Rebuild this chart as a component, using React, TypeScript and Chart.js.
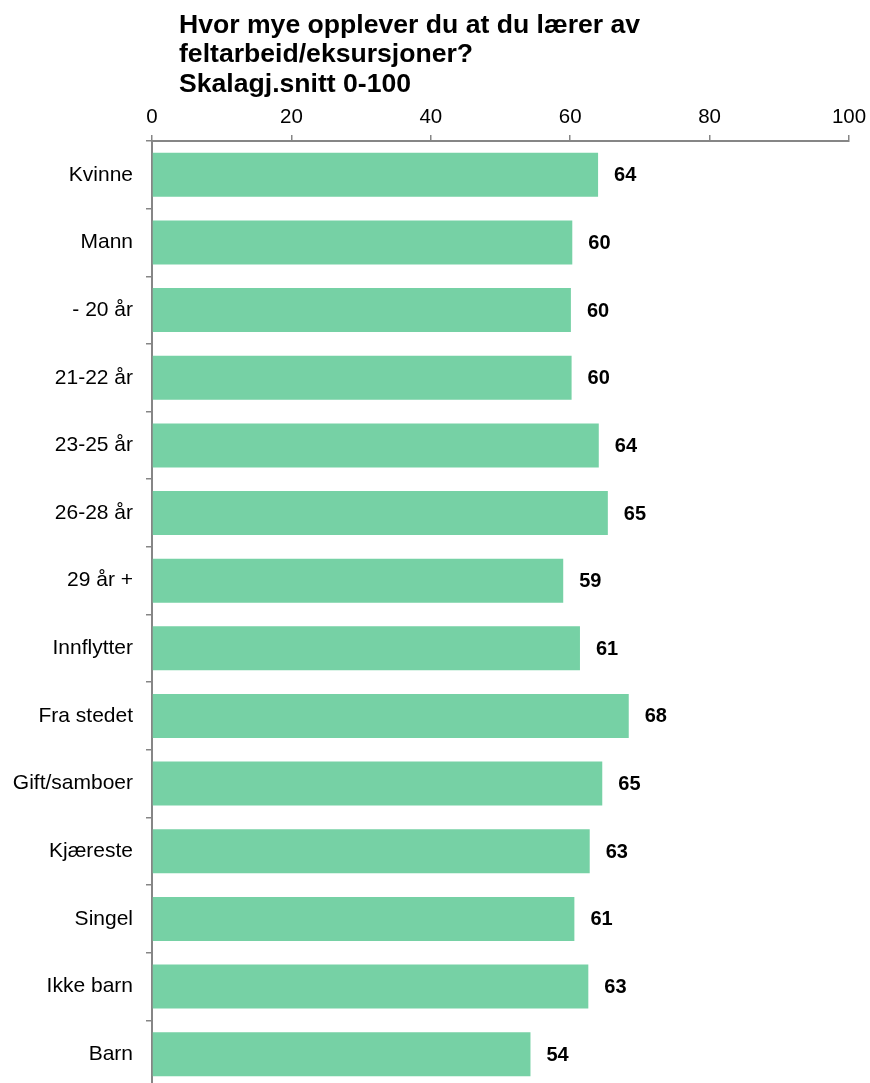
import React, { useEffect, useRef } from "react";
import { Chart, registerables } from "chart.js";

Chart.register(...registerables);

const titleLines = [
  "Hvor mye opplever du at du lærer av",
  "feltarbeid/eksursjoner?",
  "Skalagj.snitt 0-100",
];

const categories = [
  "Kvinne",
  "Mann",
  "- 20 år",
  "21-22 år",
  "23-25 år",
  "26-28 år",
  "29 år +",
  "Innflytter",
  "Fra stedet",
  "Gift/samboer",
  "Kjæreste",
  "Singel",
  "Ikke barn",
  "Barn",
];

const values = [64.0, 60.3, 60.1, 60.2, 64.1, 65.4, 59.0, 61.4, 68.4, 64.6, 62.8, 60.6, 62.6, 54.3];

const xTickValues = [0, 20, 40, 60, 80, 100];

const FONT = "'Liberation Sans', Arial, Helvetica, sans-serif";

const titlePlugin = {
  id: "customTitle",
  afterDraw(chart: any) {
    const ctx = chart.ctx;
    ctx.save();
    ctx.fillStyle = "#000";
    ctx.font = `bold 26.6px ${FONT}`;
    ctx.textAlign = "left";
    ctx.textBaseline = "alphabetic";
    const baselines = [32.5, 62, 91.5];
    titleLines.forEach((t, i) => ctx.fillText(t, 179, baselines[i]));
    ctx.restore();
  },
};

const dataLabelPlugin = {
  id: "dataLabels",
  afterDatasetsDraw(chart: any) {
    const ctx = chart.ctx;
    const meta = chart.getDatasetMeta(0);
    ctx.save();
    ctx.fillStyle = "#000";
    ctx.font = `bold 20px ${FONT}`;
    ctx.textAlign = "left";
    ctx.textBaseline = "middle";
    meta.data.forEach((bar: any, i: number) => {
      ctx.fillText(String(Math.round(values[i])), bar.x + 16, bar.y + 1);
    });
    ctx.restore();
  },
};

export default function App() {
  const ref = useRef<HTMLCanvasElement>(null);

  useEffect(() => {
    if (!ref.current) return;
    Chart.defaults.font.family = FONT;
    const chart = new Chart(ref.current, {
      type: "bar",
      data: {
        labels: categories,
        datasets: [
          {
            data: values,
            backgroundColor: "#76D1A5",
            borderWidth: 0,
            barPercentage: 0.65,
            categoryPercentage: 1,
          },
        ],
      },
      options: {
        indexAxis: "y",
        responsive: false,
        animation: false,
        layout: { padding: { left: 0, right: 21, top: 0, bottom: 3 } },
        plugins: {
          legend: { display: false },
          title: { display: false },
          tooltip: { enabled: false },
        },
        scales: {
          x: {
            position: "top",
            min: 0,
            max: 100,
            afterBuildTicks(scale: any) {
              scale.ticks = xTickValues.map((v) => ({ value: v }));
            },
            afterFit(scale: any) {
              scale.height = 141;
              scale.paddingLeft = 0;
              scale.paddingRight = 0;
              scale.paddingTop = 0;
              scale.paddingBottom = 0;
            },
            ticks: {
              color: "#000",
              font: { size: 20.5, family: FONT },
              padding: 5,
              maxRotation: 0,
            },
            grid: {
              drawOnChartArea: false,
              drawTicks: true,
              tickLength: 6,
              color: "#868686",
              lineWidth: 1.5,
            },
            border: { display: true, color: "#868686", width: 2 },
          },
          y: {
            afterFit(scale: any) {
              scale.width = 152;
              scale.paddingLeft = 0;
              scale.paddingRight = 0;
              scale.paddingTop = 0;
              scale.paddingBottom = 0;
            },
            ticks: {
              color: "#000",
              font: { size: 21, family: FONT },
              padding: 13,
            },
            grid: {
              offset: true,
              drawOnChartArea: false,
              drawTicks: true,
              tickLength: 6,
              color: "#868686",
              lineWidth: 1.5,
            },
            border: { display: true, color: "#868686", width: 2 },
          },
        },
      },
      plugins: [titlePlugin, dataLabelPlugin],
    } as any);
    return () => chart.destroy();
  }, []);

  return (
    <div
      style={{
        position: "absolute",
        left: 0,
        top: 0,
        width: 870,
        height: 1083,
        overflow: "hidden",
        background: "#fff",
      }}
    >
      <canvas ref={ref} width={870} height={1091} style={{ display: "block", width: 870, height: 1091 }} />
    </div>
  );
}
